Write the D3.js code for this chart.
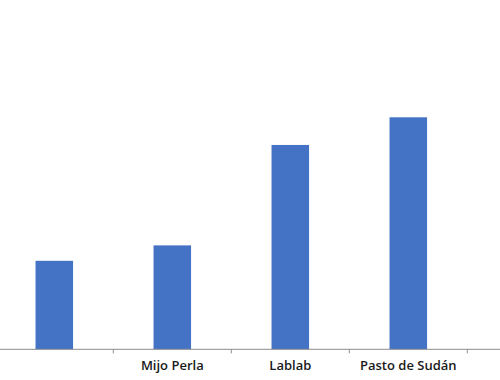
<!DOCTYPE html>
<html>
<head>
<meta charset="utf-8">
<script src="https://cdn.jsdelivr.net/npm/d3@7"></script>
<style>
  html, body { margin: 0; padding: 0; background: #fff; }
  svg { display: block; }
</style>
</head>
<body>
<script>
const categories = ["", "Mijo Perla", "Lablab", "Pasto de Sudán"];
const values = [3.04, 3.57, 7.02, 7.97];

const W = 500, H = 380;
const svg = d3.select("body").append("svg").attr("width", W).attr("height", H);

const baseY = 349.3;
const x = d3.scaleBand().domain(categories).range([-4.7, 467.3]).padding(0);
const y = d3.scaleLinear().domain([0, 12]).range([baseY, 0]);
const barW = x.bandwidth() * 0.318;

svg.selectAll("rect.bar").data(values).join("rect")
  .attr("class", "bar")
  .attr("x", (d, i) => x(categories[i]) + x.bandwidth() / 2 - barW / 2)
  .attr("y", d => y(d))
  .attr("width", barW)
  .attr("height", d => y(0) - y(d))
  .attr("fill", "#4472C4");

// axis line
svg.append("line")
  .attr("x1", 0).attr("x2", W)
  .attr("y1", baseY).attr("y2", baseY)
  .attr("stroke", "#8c8c8c").attr("stroke-width", 1);

// ticks at band boundaries
const bounds = categories.map(c => x(c) + x.bandwidth());
svg.selectAll("line.tick").data(bounds).join("line")
  .attr("class", "tick")
  .attr("x1", d => d).attr("x2", d => d)
  .attr("y1", baseY).attr("y2", baseY + 4)
  .attr("stroke", "#8c8c8c").attr("stroke-width", 1);

svg.selectAll("text.cat").data(categories).join("text")
  .attr("class", "cat")
  .attr("x", d => x(d) + x.bandwidth() / 2)
  .attr("y", 370)
  .attr("text-anchor", "middle")
  .attr("font-family", "'Open Sans', sans-serif")
  .attr("font-weight", 600)
  .attr("font-size", 13)
  .attr("fill", "#1a1a1a")
  .text(d => d);
</script>
</body>
</html>
